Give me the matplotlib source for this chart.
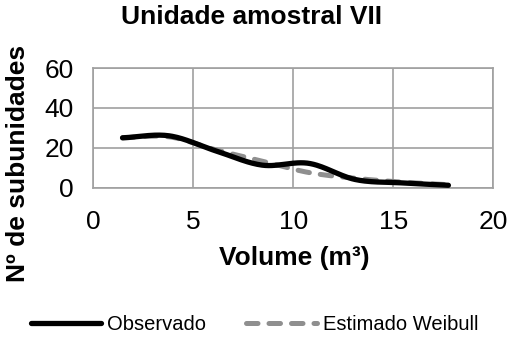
import numpy as np
import matplotlib
matplotlib.use("Agg")
import matplotlib.pyplot as plt

plt.rcParams['font.family'] = ['Liberation Sans', 'DejaVu Sans']

# class centres (m³) and counts per class
volume = [1.47, 3.80, 6.12, 8.45, 10.78, 13.10, 15.43, 17.76]
observado = [25.0, 26.0, 18.5, 11.3, 12.2, 4.1, 2.4, 1.2]
weibull = [25.0, 25.5, 19.0, 13.3, 7.6, 4.7, 2.8, 1.5]


def smooth(x, y, n=30):
    # Catmull-Rom style curve through the points, like a spreadsheet "smoothed line"
    x = np.asarray(x, float)
    y = np.asarray(y, float)
    px = np.concatenate([[2 * x[0] - x[1]], x, [2 * x[-1] - x[-2]]])
    py = np.concatenate([[2 * y[0] - y[1]], y, [2 * y[-1] - y[-2]]])
    xs, ys = [], []
    t = np.linspace(0, 1, n)
    for i in range(1, len(px) - 2):
        p0, p1, p2, p3 = (np.array([px[j], py[j]]) for j in range(i - 1, i + 3))
        c1 = p1 + (p2 - p0) / 6
        c2 = p2 - (p3 - p1) / 6
        pts = ((1 - t) ** 3)[:, None] * p1 + (3 * (1 - t) ** 2 * t)[:, None] * c1 \
            + (3 * (1 - t) * t ** 2)[:, None] * c2 + (t ** 3)[:, None] * p2
        xs.extend(pts[:, 0])
        ys.extend(pts[:, 1])
    return xs, ys


fig = plt.figure(figsize=(5.09, 3.40), dpi=100)
ax = fig.add_axes([0.183, 0.448, 0.786, 0.352])

wx, wy = smooth(volume, weibull)
ox, oy = smooth(volume, observado)
ax.plot(wx, wy, color='#8f8f8f', lw=3.6, dashes=(2.3, 2.2), dash_capstyle='round',
        label='Estimado Weibull', zorder=3)
ax.plot(ox, oy, color='black', lw=3.8, solid_capstyle='round', label='Observado', zorder=4)

ax.set_xlim(0, 20)
ax.set_ylim(0, 60)
ax.set_xticks([0, 5, 10, 15, 20])
ax.set_yticks([0, 20, 40, 60])
ax.grid(True, color='#a0a0a0', lw=1.2)
for s in ax.spines.values():
    s.set_color('#a0a0a0')
    s.set_linewidth(1.2)
ax.tick_params(axis='y', length=0, labelsize=19, pad=14)
ax.tick_params(axis='x', length=0, labelsize=19, pad=16)

fig.text(0.495, 0.95, 'Unidade amostral VII', fontsize=19, fontweight='bold',
         ha='center', va='center')
fig.text(0.578, 0.241, 'Volume (m³)', fontsize=19, fontweight='bold',
         ha='center', va='center')
fig.text(0.035, 0.518, 'Nº de subunidades', fontsize=19, fontweight='bold',
         ha='center', va='center', rotation=90)

handles, labels = ax.get_legend_handles_labels()
fig.legend(handles[::-1], labels[::-1], loc='center', bbox_to_anchor=(0.5, 0.045),
           ncol=2, frameon=False, fontsize=14.5, handlelength=3.5, handletextpad=0.3,
           columnspacing=2.0)

fig.savefig('out.png', dpi=100)
